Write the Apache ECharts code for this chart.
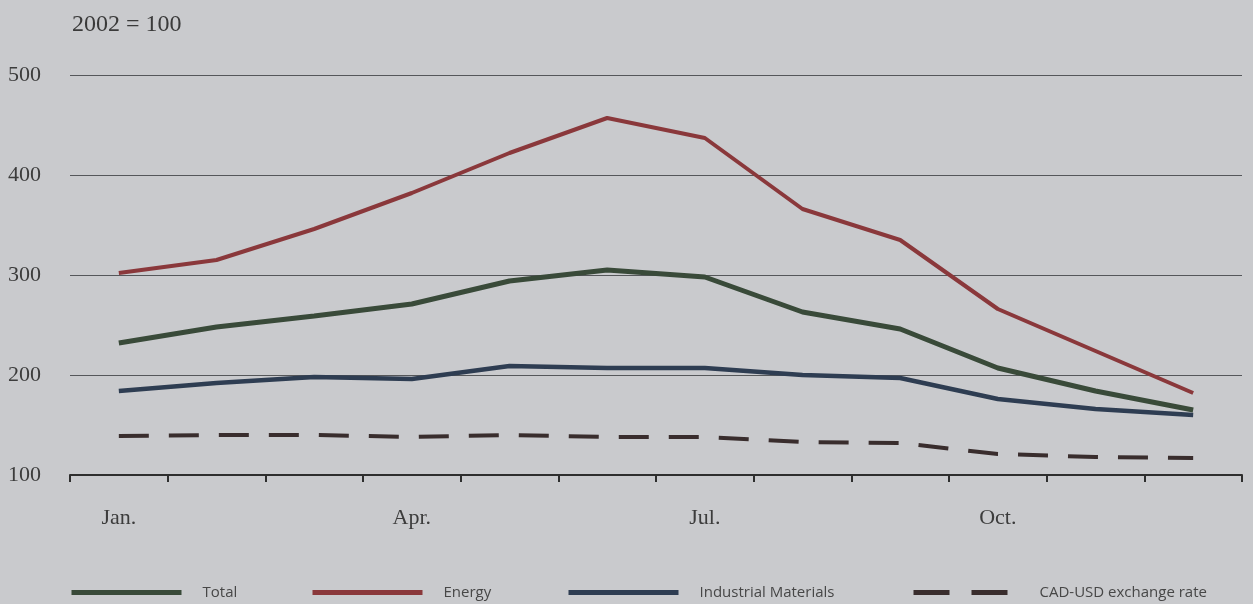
<!DOCTYPE html>
<html>
<head>
<meta charset="utf-8">
<script src="https://cdn.jsdelivr.net/npm/echarts@6/dist/echarts.min.js"></script>
<style>
html,body{margin:0;padding:0;background:#c9cacd;}
#chart{width:1253px;height:604px;}
</style>
</head>
<body>
<div id="chart"></div>
<script>
const months = ['Jan.','Feb.','Mar.','Apr.','May','Jun.','Jul.','Aug.','Sep.','Oct.','Nov.','Dec.'];
const total = [232, 248, 259, 271, 294, 305, 298, 263, 246, 207, 184, 165];
const energy = [302, 315, 346, 382, 422, 457, 437, 366, 335, 266, 224, 182];
const industrial = [184, 192, 198, 196, 209, 207, 207, 200, 197, 176, 166, 160];
const cadUsd = [139, 140, 140, 138, 140, 138, 138, 133, 132, 121, 118, 117];
const yTicks = [100, 200, 300, 400, 500];

const axisFont = '"Liberation Serif", serif';
const legendFont = '"Open Sans", Lato, sans-serif';
const C = {total:'#394a39', energy:'#8a383b', industrial:'#2e3d52', cad:'#392d2d'};

function legendAt(name, left, w, extra) {
  return Object.assign({
    data:[name], left:left, top:585, padding:0, itemWidth:w, itemHeight:14,
    selectedMode:false,
    itemStyle:{opacity:0},
    textStyle:{fontFamily:legendFont, fontSize:15, color:'#474747', padding:[0,0,0,16]},
    lineStyle:{width:5}
  }, extra || {});
}

const chart = echarts.init(document.getElementById('chart'), null, {renderer:'canvas'});
chart.setOption({
  backgroundColor:'#c9cacd',
  animation:false,
  title:{text:'2002 = 100', left:67, top:8, textStyle:{fontFamily:axisFont, fontSize:24, fontWeight:'normal', color:'#3a3a3a'}},
  grid:{left:70, right:11, top:75, bottom:129},
  legend:[
    legendAt('Total', 69, 110),
    legendAt('Energy', 310, 110),
    legendAt('Industrial Materials', 566, 110),
    legendAt('CAD-USD exchange rate', 911, 94, {lineStyle:{width:5, type:[36,22]}, textStyle:{fontFamily:legendFont, fontSize:15, color:'#474747', padding:[0,0,0,27]}})
  ],
  xAxis:{
    type:'category', data:months, boundaryGap:true,
    axisLine:{lineStyle:{color:'#2e2e2e', width:2}},
    axisTick:{show:true, interval:0, length:7, lineStyle:{color:'#2e2e2e', width:2}},
    axisLabel:{interval:2, margin:32, fontFamily:axisFont, fontSize:22, color:'#3c3c3c'},
    splitLine:{show:false}
  },
  yAxis:{
    type:'value', min:yTicks[0], max:yTicks[yTicks.length-1], interval:100,
    axisLine:{show:false}, axisTick:{show:false},
    axisLabel:{align:'left', margin:62, fontFamily:axisFont, fontSize:22, color:'#3c3c3c'},
    splitLine:{lineStyle:{color:'#55575a', width:1}}
  },
  series:[
    {name:'Industrial Materials', type:'line', data:industrial, symbol:'none', lineStyle:{color:C.industrial, width:4.5}, itemStyle:{color:C.industrial}, z:3},
    {name:'Total', type:'line', data:total, symbol:'none', lineStyle:{color:C.total, width:5}, itemStyle:{color:C.total}, z:4},
    {name:'Energy', type:'line', data:energy, symbol:'none', lineStyle:{color:C.energy, width:4}, itemStyle:{color:C.energy}, z:5},
    {name:'CAD-USD exchange rate', type:'line', data:cadUsd, symbol:'none', lineStyle:{color:C.cad, width:4, type:[30,20]}, itemStyle:{color:C.cad}, z:2}
  ]
});
</script>
</body>
</html>
